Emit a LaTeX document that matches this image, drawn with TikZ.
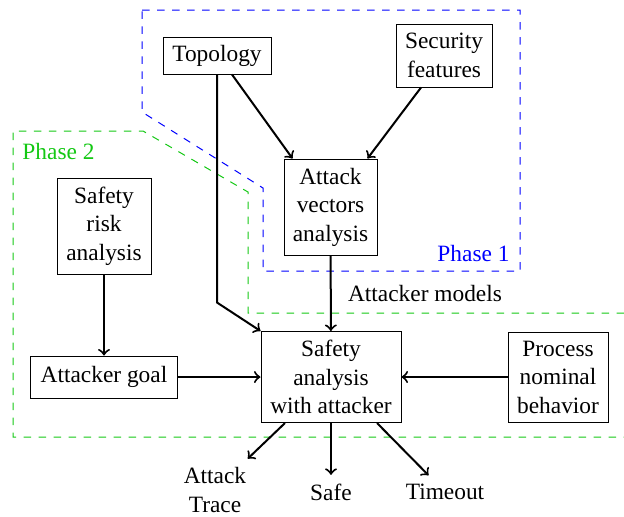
\documentclass[tikz,border=0pt]{standalone}
\usepackage{fontspec}
\setmainfont{Liberation Serif}
\usetikzlibrary{calc}
\definecolor{phtwo}{RGB}{20,200,20}
\begin{document}
\begin{tikzpicture}[x=0.4pt,y=-0.4pt,
  font=\fontsize{9.35pt}{11.4pt}\selectfont,
  box/.style={draw,align=center,inner sep=2pt},
  lbl/.style={align=center,inner sep=3.33pt},
  arr/.style={->,thick},
  ph1/.style={draw=blue,dashed},
  ph2/.style={draw=phtwo,dashed}]
\path[use as bounding box] (0,0) rectangle (624,516);
% phases
\draw[ph1] (142,10) -- (520,10) -- (520,271) -- (263,271) -- (263,188) -- (142,112) -- cycle;
\draw[ph2] (624,313) -- (248,313) -- (248,192) -- (143,131) -- (13,131) -- (13,437) -- (624,437);
\node[text=blue,anchor=east,inner sep=0] (p1) at (510,253) {Phase 1};
\node[text=phtwo,anchor=west,inner sep=0] (p2) at (22,151) {Phase 2};
% nodes
\node[box,minimum width=43.2pt,minimum height=14.8pt] (topo) at (217,55.5) {Topology};
\node[box,minimum width=38.4pt,minimum height=25.2pt] (sec) at (444,55.5) {Security\\features};
\node[box,minimum width=37.2pt,minimum height=38.4pt] (av) at (330.5,207) {Attack\\vectors\\analysis};
\node[box,minimum width=37.6pt,minimum height=38.4pt] (srisk) at (104,226) {Safety\\risk\\analysis};
\node[box,minimum width=58.4pt,minimum height=16.8pt] (goal) at (104,377) {Attacker goal};
\node[box,minimum width=56pt,minimum height=36.4pt] (sa) at (331,377) {Safety\\analysis\\with attacker};
\node[box,minimum width=40pt,minimum height=36pt] (proc) at (558,377) {Process\\nominal\\behavior};
\node[inner sep=0] (am) at (425,293) {Attacker models};
\node[lbl] (trace) at (215,490) {Attack\\Trace};
\node[lbl] (safe) at (331,492) {Safe};
\node[lbl] (tout) at (445,492) {Timeout};
% connectors
\draw[arr] ($(topo.south)+(15,0)$) -- ($(av.north)+(-38,0)$);
\draw[arr] ($(sec.south)+(-23,0)$) -- ($(av.north)+(37,0)$);
\draw[arr] (topo.south) -- ++(0,228) -- (sa.north west);
\draw[arr] (av) -- (sa);
\draw[arr] (srisk) -- (goal);
\draw[arr] (goal) -- (sa);
\draw[arr] (proc) -- (sa);
\draw[arr] ($(sa.south)+(-46,0)$) -- (trace);
\draw[arr] (sa.south) -- (safe);
\draw[arr] ($(sa.south)+(46,0)$) -- (tout);
\end{tikzpicture}
\end{document}
